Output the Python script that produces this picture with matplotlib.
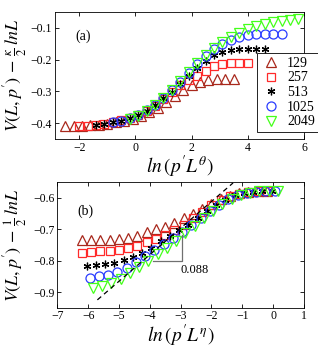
import matplotlib
matplotlib.use("Agg")
import matplotlib.pyplot as plt

plt.rcParams['font.family'] = ['Liberation Serif', 'DejaVu Serif']
plt.rcParams['mathtext.fontset'] = 'stix'

labels = ['129', '257', '513', '1025', '2049']
colors = ['#a8281c', '#ff2a2a', '#000000', '#2a3cff', '#44ff1a']
markers = ['^', 's', (6, 2, 0), 'o', 'v']
msizes = [6.5, 5.5, 5.5, 6.5, 7]

# ---- panel (a) data ----
xa = [
    [-2.5, -2.2, -1.9, -1.6, -1.3, -1.0, -0.7, -0.4, -0.1, 0.2, 0.5, 0.8, 1.1, 1.4, 1.7, 2.0, 2.3, 2.6, 2.9, 3.2, 3.5],
    [-2.0, -1.7, -1.4, -1.1, -0.8, -0.5, -0.2, 0.1, 0.4, 0.7, 1.0, 1.3, 1.6, 1.9, 2.2, 2.5, 2.8, 3.1, 3.4, 3.7, 4.0],
    [-1.4, -1.1, -0.8, -0.5, -0.2, 0.1, 0.4, 0.7, 1.0, 1.3, 1.6, 1.9, 2.2, 2.5, 2.8, 3.1, 3.4, 3.7, 4.0, 4.3, 4.6],
    [-0.8, -0.5, -0.2, 0.1, 0.4, 0.7, 1.0, 1.3, 1.6, 1.9, 2.2, 2.5, 2.8, 3.1, 3.4, 3.7, 4.0, 4.3, 4.6, 4.9, 5.2],
    [-0.2, 0.1, 0.4, 0.7, 1.0, 1.3, 1.6, 1.9, 2.2, 2.5, 2.8, 3.1, 3.4, 3.7, 4.0, 4.3, 4.6, 4.9, 5.2, 5.5, 5.8],
]
ya = [
    [-0.41, -0.41, -0.408, -0.407, -0.405, -0.402, -0.398, -0.393, -0.386, -0.377, -0.366, -0.352, -0.335, -0.315, -0.296, -0.28, -0.27, -0.264, -0.261, -0.26, -0.26],
    [-0.41, -0.408, -0.405, -0.402, -0.397, -0.391, -0.384, -0.375, -0.362, -0.345, -0.325, -0.302, -0.28, -0.265, -0.252, -0.236, -0.22, -0.213, -0.21, -0.21, -0.21],
    [-0.405, -0.402, -0.398, -0.392, -0.385, -0.375, -0.362, -0.344, -0.322, -0.302, -0.278, -0.25, -0.225, -0.205, -0.187, -0.177, -0.17, -0.166, -0.165, -0.165, -0.165],
    [-0.398, -0.392, -0.385, -0.374, -0.36, -0.342, -0.32, -0.296, -0.27, -0.243, -0.215, -0.19, -0.168, -0.15, -0.137, -0.128, -0.123, -0.12, -0.118, -0.118, -0.118],
    [-0.386, -0.376, -0.362, -0.344, -0.322, -0.296, -0.268, -0.24, -0.212, -0.186, -0.163, -0.144, -0.128, -0.115, -0.104, -0.095, -0.088, -0.082, -0.077, -0.074, -0.073],
]

# ---- panel (b) data ----
xb = [
    [-6.2, -5.9, -5.6, -5.3, -5.0, -4.7, -4.4, -4.1, -3.8, -3.5, -3.2, -2.9, -2.6, -2.3, -2.0, -1.7, -1.4, -1.1, -0.8, -0.5, -0.2],
    [-6.2, -5.9, -5.6, -5.3, -5.0, -4.7, -4.4, -4.1, -3.8, -3.5, -3.2, -2.9, -2.6, -2.3, -2.0, -1.7, -1.4, -1.1, -0.8, -0.5, -0.2],
    [-6.05, -5.75, -5.45, -5.15, -4.85, -4.55, -4.25, -3.95, -3.65, -3.35, -3.05, -2.75, -2.45, -2.15, -1.85, -1.55, -1.25, -0.95, -0.65, -0.35, -0.05],
    [-5.95, -5.65, -5.35, -5.05, -4.75, -4.45, -4.15, -3.85, -3.55, -3.25, -2.95, -2.65, -2.35, -2.05, -1.75, -1.45, -1.15, -0.85, -0.55, -0.25, 0.05],
    [-5.85, -5.55, -5.25, -4.95, -4.65, -4.35, -4.05, -3.75, -3.45, -3.15, -2.85, -2.55, -2.25, -1.95, -1.65, -1.35, -1.05, -0.75, -0.45, -0.15, 0.15],
]
yb = [
    [-0.735, -0.735, -0.734, -0.733, -0.731, -0.728, -0.72, -0.71, -0.70, -0.692, -0.68, -0.665, -0.65, -0.634, -0.618, -0.604, -0.593, -0.585, -0.58, -0.578, -0.577],
    [-0.775, -0.772, -0.77, -0.768, -0.765, -0.76, -0.752, -0.742, -0.73, -0.717, -0.702, -0.685, -0.665, -0.644, -0.624, -0.607, -0.594, -0.586, -0.58, -0.578, -0.577],
    [-0.816, -0.814, -0.811, -0.806, -0.798, -0.787, -0.775, -0.76, -0.738, -0.72, -0.703, -0.685, -0.665, -0.643, -0.622, -0.605, -0.592, -0.584, -0.58, -0.578, -0.577],
    [-0.854, -0.85, -0.845, -0.836, -0.822, -0.805, -0.786, -0.767, -0.748, -0.728, -0.707, -0.685, -0.663, -0.642, -0.621, -0.604, -0.592, -0.584, -0.58, -0.578, -0.577],
    [-0.888, -0.882, -0.872, -0.858, -0.84, -0.82, -0.8, -0.78, -0.758, -0.736, -0.712, -0.688, -0.664, -0.641, -0.62, -0.603, -0.591, -0.583, -0.579, -0.578, -0.578],
]

dash_x = [-5.7, -1.3]
dash_y = [-0.925, -0.552]
slope_label = '0.088'

fig = plt.figure(figsize=(3.18, 3.49), dpi=100)
W, H = 318.0, 349.0
axa = fig.add_axes([55 / W, 1 - 139 / H, (304 - 55) / W, (139 - 12) / H])
axb = fig.add_axes([57.3 / W, 1 - 307.7 / H, (304 - 57.3) / W, (307.7 - 182.3) / H])

for i in range(5):
    fill = colors[i] if i == 2 else 'none'
    axa.plot(xa[i], ya[i], linestyle='none', marker=markers[i], ms=msizes[i],
             mfc=fill, mec=colors[i], mew=0.9, label=labels[i])
    axb.plot(xb[i], yb[i], linestyle='none', marker=markers[i], ms=msizes[i],
             mfc=fill, mec=colors[i], mew=0.9)

axb.plot(dash_x, dash_y, linestyle=(0, (4, 3)), color='black', lw=0.9)
axb.plot([-3.9, -2.95, -2.95], [-0.8, -0.8, -0.718], color='#707070', lw=0.9)
axb.text(-2.55, -0.83, slope_label, ha='center', va='center', fontsize=9)

axa.set_xlim(-2.86, 6)
axa.set_ylim(-0.45, -0.05)
axa.set_xticks([-2, 0, 2, 4, 6])
axa.set_yticks([-0.4, -0.3, -0.2, -0.1])
axb.set_xlim(-7, 1)
axb.set_ylim(-0.95, -0.55)
axb.set_xticks(range(-7, 2))
axb.set_yticks([-0.9, -0.8, -0.7, -0.6])

fmt = matplotlib.ticker.FuncFormatter(lambda v, p: ('%g' % v).replace('-', '\u2212'))
for ax in (axa, axb):
    ax.tick_params(direction='in', top=True, right=True, length=3, width=0.6,
                   labelsize=8.5, pad=2)
    for s in ax.spines.values():
        s.set_linewidth(0.6)
    ax.xaxis.set_major_formatter(fmt)
    ax.yaxis.set_major_formatter(fmt)

axa.text(0.08, 0.78, '(a)', transform=axa.transAxes, fontsize=10)
axb.text(0.08, 0.74, '(b)', transform=axb.transAxes, fontsize=10)

axa.set_xlabel(r"$ln\,(p'L^{\theta})$", fontsize=14, labelpad=0)
axb.set_xlabel(r"$ln\,(p'L^{\eta})$", fontsize=14, labelpad=0)
axa.set_ylabel(r"$V(L,p')\,-\,\frac{\kappa}{2}\,lnL$", fontsize=13)
axb.set_ylabel(r"$V(L,p')\,-\,\frac{1}{2}\,lnL$", fontsize=13)
axa.yaxis.set_label_coords(-0.105, 0.5)
axb.yaxis.set_label_coords(-0.115, 0.5)

leg = axa.legend(loc='upper left', bbox_to_anchor=(257.3 / W, 1 - 53.3 / H),
                 bbox_transform=fig.transFigure, borderaxespad=0, fontsize=10,
                 handletextpad=0.4, labelspacing=0.12, borderpad=0.25,
                 handlelength=1.5, fancybox=False, framealpha=1, edgecolor='black')
leg.get_frame().set_linewidth(0.6)

fig.savefig('out.png', dpi=100)
